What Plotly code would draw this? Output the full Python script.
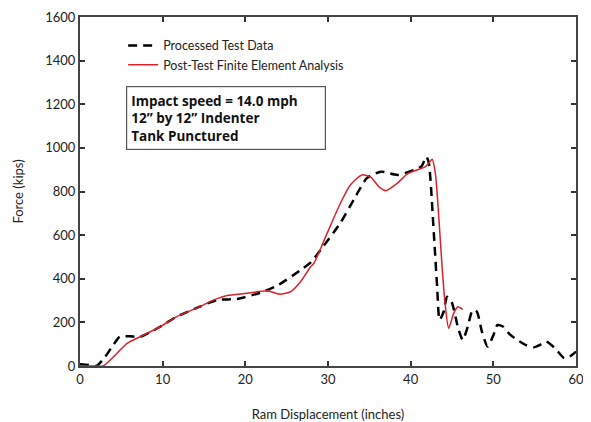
import plotly.graph_objects as go

# Processed Test Data (dashed black)
test_x = [0, 1.0, 2.0, 3.0, 4.0, 4.8, 6.0, 7.3, 8.5, 9.7, 11.7, 14.5, 16.6, 19.0, 21.8, 23.8, 26.7, 27.9,
          29.1, 31.5, 33.1, 34.7, 36.4, 38.4, 40.4, 41.3, 41.9, 42.2, 42.8, 43.2, 43.5,
          44.0, 44.4, 45.0, 45.7, 46.3, 46.9, 47.5, 48.0, 48.6, 49.3, 50.0, 50.5, 51.2,
          52.0, 52.9, 54.0, 54.9, 55.8, 56.4, 57.5, 58.6, 59.3, 60.0]
test_y = [8, 5, 0, 40, 95, 134, 136, 134, 155, 180, 226, 272, 303, 307, 336, 367, 440, 475,
          532, 656, 761, 861, 891, 876, 899, 915, 960, 931, 610, 364, 211,
          250, 318, 289, 180, 119, 180, 257, 250, 160, 89, 140, 188, 180,
          145, 119, 95, 86, 100, 112, 80, 35, 45, 66]

# Post-Test Finite Element Analysis (solid red)
fe_x = [0, 1.0, 2.0, 2.8, 4.0, 5.7, 7.7, 9.7, 11.7, 14.5, 16.2, 17.8, 20.2, 22.6, 24.2, 25.5, 26.7,
        27.9, 28.3, 29.9, 31.5, 32.7, 34.1, 35.2, 36.2, 37.0, 38.4, 39.6, 41.8, 42.3, 42.6,
        43.0, 43.4, 43.8, 44.2, 44.6, 45.2, 45.7, 46.3]
fe_y = [0, 0, 0, 0, 40, 104, 142, 180, 226, 272, 303, 323, 333, 345, 329, 341, 387,
        455, 471, 609, 746, 830, 876, 865, 820, 804, 838, 881, 914, 935, 948,
        880, 685, 455, 272, 173, 241, 272, 260]

x_ticks = [0, 10, 20, 30, 40, 50, 60]
y_ticks = [0, 200, 400, 600, 800, 1000, 1200, 1400, 1600]

FONT = "Lato, 'Open Sans', sans-serif"

fig = go.Figure()
fig.add_trace(go.Scatter(
    x=test_x, y=test_y, mode="lines", name="Processed Test Data",
    line=dict(color="black", width=2.5, dash="9px,6px", shape="spline", smoothing=0.6),
))
fig.add_trace(go.Scatter(
    x=fe_x, y=fe_y, mode="lines", name="Post-Test Finite Element Analysis",
    line=dict(color="#d9232a", width=1.5, shape="spline", smoothing=0.6),
))

axis_common = dict(
    showline=True, linecolor="#444", linewidth=2, mirror="ticks",
    ticks="inside", ticklen=5, tickwidth=1.5, tickcolor="#333",
    showgrid=False, zeroline=False, automargin=False,
    tickfont=dict(family=FONT, size=13, color="#222"),
)

fig.update_layout(
    width=583, height=414,
    margin=dict(l=72, r=15, t=9, b=56),
    paper_bgcolor="white", plot_bgcolor="white",
    font=dict(family=FONT, color="#222"),
    xaxis=dict(range=[0, 60], tickvals=x_ticks, **axis_common,
               title=dict(text="Ram Displacement (inches)", font=dict(family=FONT, size=13), standoff=24)),
    yaxis=dict(range=[0, 1600], tickvals=y_ticks, **axis_common,
               title=dict(text="Force (kips)", font=dict(family=FONT, size=13), standoff=19)),
    showlegend=True,
    legend=dict(x=0.087, y=0.96, xanchor="left", yanchor="top",
                bgcolor="rgba(0,0,0,0)", font=dict(family=FONT, size=12.5, color="#222"),
                itemwidth=30, tracegroupgap=0),
)

fig.add_annotation(
    xref="paper", yref="paper", x=0.0927, y=0.803, xanchor="left", yanchor="top",
    text="<b>Impact speed = 14.0 mph<br>12\u201d by 12\u201d Indenter<br>Tank Punctured</b>",
    showarrow=False, align="left", width=190, height=54,
    font=dict(family="'Open Sans', sans-serif", size=13.5, color="#111"),
    bordercolor="#555", borderwidth=1.2, borderpad=4, bgcolor="white",
)

fig.write_html("out.html")
